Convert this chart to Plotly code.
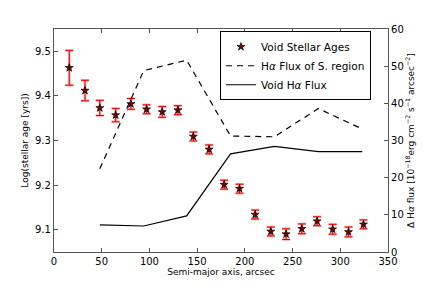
import plotly.graph_objects as go

# Stellar ages (left axis)
age_x = [16, 32.5, 48, 64.6, 80.6, 97, 113.4, 129.8, 146, 162.6,
         178.3, 194.4, 210.8, 227.2, 243.2, 259.7, 275.7, 292, 308.6, 324.3]
age_y = [9.463, 9.412, 9.373, 9.357, 9.382, 9.370, 9.364, 9.368, 9.309, 9.280,
         9.201, 9.192, 9.134, 9.096, 9.090, 9.102, 9.119, 9.101, 9.095, 9.112]
age_err = [0.039, 0.023, 0.017, 0.015, 0.012, 0.010, 0.012, 0.010, 0.010, 0.010,
           0.010, 0.010, 0.010, 0.010, 0.012, 0.011, 0.010, 0.011, 0.011, 0.010]

# H-alpha fluxes (right axis)
flux_x = [48, 94, 139, 185, 231, 277, 323]
flux_sregion = [22.4, 48.8, 51.6, 31.2, 31.0, 38.6, 33.1]
flux_void = [7.3, 7.0, 9.7, 26.4, 28.4, 27.0, 27.0]

font = "DejaVu Sans"
fig = go.Figure()

# pink broad error bars
fig.add_trace(go.Scatter(
    x=age_x, y=age_y, mode="markers", showlegend=False,
    marker=dict(size=1, color="rgba(0,0,0,0)"),
    error_y=dict(type="data", array=age_err, color="rgba(255,110,110,0.6)",
                 thickness=2.5, width=4),
    hoverinfo="skip"))
# thin red error bars + stars
fig.add_trace(go.Scatter(
    x=age_x, y=age_y, mode="markers", name="Void Stellar Ages",
    marker=dict(symbol="star", size=6, color="#7a0000",
                line=dict(color="black", width=0.7)),
    error_y=dict(type="data", array=age_err, color="#e00000",
                 thickness=1, width=4)))
fig.add_trace(go.Scatter(
    x=flux_x, y=flux_sregion, mode="lines", name="H<i>α</i> Flux of S. region",
    line=dict(color="black", width=1.2, dash="6px,5px"), yaxis="y2"))
fig.add_trace(go.Scatter(
    x=flux_x, y=flux_void, mode="lines", name="Void H<i>α</i> Flux",
    line=dict(color="black", width=1.2), yaxis="y2"))

axcol = "#555555"
# the page body has an 8px margin, so the figure is sized to fit inside 432x288
fig.update_layout(
    width=424, height=280,
    margin=dict(l=46, r=44, t=21, b=36),
    paper_bgcolor="white", plot_bgcolor="white",
    font=dict(family=font, size=10, color="black"),
    xaxis=dict(range=[0, 350], tickvals=[0, 50, 100, 150, 200, 250, 300, 350],
               ticks="inside", ticklen=4, tickcolor=axcol, mirror="ticks",
               showline=True, linecolor=axcol, linewidth=1.2, showgrid=False,
               zeroline=False, tickfont=dict(size=10),
               title=dict(text="Semi-major axis, arcsec", font=dict(size=9), standoff=2)),
    yaxis=dict(range=[9.05, 9.55], tickvals=[9.1, 9.2, 9.3, 9.4, 9.5],
               ticktext=["9.1", "9.2", "9.3", "9.4", "9.5"],
               ticks="inside", ticklen=4, tickcolor=axcol,
               showline=True, linecolor=axcol, linewidth=1.2, showgrid=False,
               zeroline=False, tickfont=dict(size=10),
               title=dict(text="Log(stellar age [yrs])", font=dict(size=9), standoff=4)),
    yaxis2=dict(range=[0, 60], tickvals=[0, 10, 20, 30, 40, 50, 60],
                overlaying="y", side="right", anchor="x",
                ticks="inside", ticklen=4, tickcolor=axcol,
                showline=True, linecolor=axcol, linewidth=1.2, showgrid=False,
                zeroline=False, tickfont=dict(size=10),
                title=dict(text="Δ H<i>α</i> flux [10<sup>−18</sup>erg cm<sup>−2</sup> s<sup>−1</sup> arcsec<sup>−2</sup>]",
                           font=dict(size=9), standoff=2)),
    legend=dict(x=0.497, y=0.99, xanchor="left", yanchor="top",
                bgcolor="white", bordercolor="black", borderwidth=1,
                font=dict(size=10.5), itemwidth=30, tracegroupgap=0),
)

fig.write_html("out.html")
